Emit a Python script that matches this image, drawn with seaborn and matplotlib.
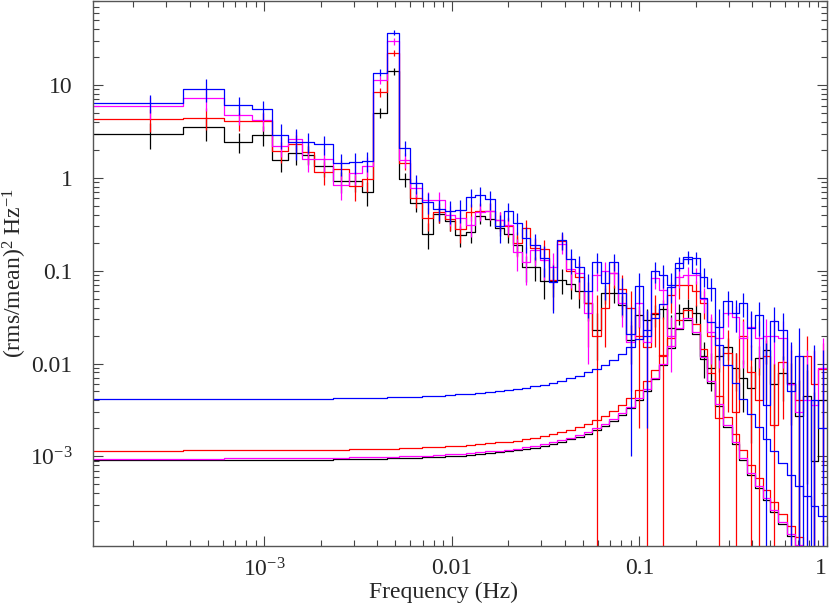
import numpy as np
import matplotlib
matplotlib.use("Agg")
import matplotlib.pyplot as plt
import seaborn as sns
from matplotlib.ticker import FixedLocator, FixedFormatter, LogLocator, NullFormatter

# frequency resolution of the periodogram (Hz)
DF = 1.0 / 4096

# logarithmic bin edges, in units of DF
bin_edges_df = [0.5, 1.5, 2.5, 3.5, 4.5, 5.5, 6.5, 7.5, 9.5, 11.5,
                13.5, 15.5, 18.5, 21.5, 24.5, 28.5, 32.5, 37.5, 42.5, 48.5,
                54.5, 61.5, 69.5, 77.5, 86.5, 96.5, 107.5, 120.5, 134.5, 149.5,
                166.5, 185.5, 206.5, 229.5, 255.5, 283.5, 314.5, 349.5, 387.5, 428.5,
                472.5, 521.5, 576.5, 636.5, 703.5, 779.5, 863.5, 944.5, 1038.5, 1148.5,
                1272.5, 1398.5, 1543.5, 1695.5, 1864.5, 2038.5, 2257.5, 2502.5, 2772.5, 3050.5,
                3355.5, 3690.5, 4095.5]

# ---- black ----
black_power = [2.95, 3.5, 2.46, 2.88, 1.55, 1.83, 1.78, 1.33, 0.93, 0.93,
               0.70, 5.0, 14.0, 0.96, 0.54, 0.25, 0.41, 0.34, 0.24, 0.26,
               0.39, 0.36, 0.29, 0.25, 0.19, 0.11, 0.11, 0.078, 0.078, 0.08,
               0.071, 0.06, 0.045, 0.023, 0.057, 0.057, 0.043, 0.018, 0.033, 0.0295,
               0.034, 0.039, 0.024, 0.035, 0.04, 0.035, 0.012, 0.009, 0.012, 0.015,
               0.009, 0.007, 0.0054, 0.0116, 0.014, 0.006, 0.0079, 0.0062, 0.0027, 0.0045,
               0.0009, 0.004]
black_err = [0.9, 1.0, 0.6, 0.7, 0.38, 0.45, 0.42, 0.32, 0.24, 0.22,
             0.2, 0.6, 1.2, 0.16, 0.11, 0.08, 0.08, 0.07, 0.06, 0.06,
             0.07, 0.06, 0.055, 0.05, 0.045, 0.035, 0.032, 0.028, 0.026, 0.024,
             0.022, 0.02, 0.016, 0.012, 0.013, 0.012, 0.011, 0.008, 0.009, 0.009,
             0.009, 0.009, 0.009, 0.009, 0.009, 0.008, 0.005, 0.004, 0.004, 0.004] + [0.004] * 12
black_model = [0.000903, 0.000905, 0.000907, 0.00091, 0.000913, 0.000914, 0.000917, 0.000921, 0.000925, 0.000931,
               0.000935, 0.000941, 0.00095, 0.000957, 0.000966, 0.000977, 0.000989, 0.001, 0.00102, 0.00104,
               0.00105, 0.00108, 0.0011, 0.00113, 0.00116, 0.0012, 0.00124, 0.0013, 0.00136, 0.00143,
               0.00152, 0.00163, 0.00176, 0.00193, 0.00214, 0.00241, 0.00278, 0.0033, 0.00402, 0.00508,
               0.00673, 0.00958, 0.0147, 0.0233, 0.0293, 0.0208, 0.0112, 0.00616, 0.0035, 0.00209,
               0.00135, 0.000909, 0.000635, 0.000457, 0.000338, 0.000251, 0.000185, 0.00014, 0.000106, 8.3e-5,
               6.5e-5, 5.1e-5]

# ---- red ----
red_power = [4.35, 4.45, 4.07, 4.1, 1.95, 2.34, 1.9, 1.15, 1.23, 0.81,
             0.97, 8.4, 22.3, 1.43, 0.6, 0.37, 0.43, 0.36, 0.28, 0.43,
             0.44, 0.44, 0.35, 0.30, 0.20, 0.29, 0.174, 0.17, 0.08, 0.21,
             0.10, 0.085, 0.045, 0.02, 0.04, 0.095, 0.064, 0.04, 0.02, 0.015,
             0.035, 0.012, 0.055, 0.07, 0.07, 0.06, 0.045, 0.02, 0.0026, 0.013,
             0.003, 0.02, 0.008, 0.004, 0.012, 0.0022, 0.0105, 0.006, 0.004, 0.012,
             0.006, 0.0088]
red_err = [1.2, 1.2, 0.9, 0.9, 0.5, 0.55, 0.48, 0.32, 0.32, 0.25,
           0.27, 0.9, 1.8, 0.22, 0.13, 0.1, 0.1, 0.09, 0.08, 0.09,
           0.09, 0.09, 0.08, 0.07, 0.06, 0.06, 0.05, 0.045, 0.042, 0.042,
           0.038, 0.035, 0.03, 0.035, 0.025, 0.03, 0.025, 0.02, 0.018, 0.022,
           0.02, 0.02, 0.02, 0.02, 0.02, 0.018, 0.015, 0.012, 0.012, 0.01,
           0.01, 0.01] + [0.008] * 10
red_model = [0.00115, 0.00116, 0.00116, 0.00116, 0.00117, 0.00117, 0.00117, 0.00118, 0.00118, 0.00119,
             0.00119, 0.0012, 0.00121, 0.00122, 0.00123, 0.00125, 0.00126, 0.00128, 0.0013, 0.00132,
             0.00135, 0.00138, 0.00141, 0.00144, 0.00148, 0.00153, 0.00159, 0.00166, 0.00174, 0.00183,
             0.00194, 0.00208, 0.00225, 0.00246, 0.00273, 0.00308, 0.00356, 0.00421, 0.00513, 0.00649,
             0.0086, 0.0122, 0.0188, 0.0297, 0.0375, 0.0265, 0.0143, 0.00788, 0.00447, 0.00268,
             0.00172, 0.00116, 0.00081, 0.000584, 0.000432, 0.000321, 0.000237, 0.000178, 0.000136, 0.000106,
             8.3e-5, 6.4e-5]

# ---- magenta ----
magenta_power = [5.9, 7.3, 4.8, 4.17, 2.21, 2.6, 1.6, 1.6, 0.83, 1.13,
                 1.35, 11.4, 29.5, 1.55, 0.77, 0.58, 0.58, 0.40, 0.37, 0.31,
                 0.43, 0.44, 0.35, 0.31, 0.16, 0.125, 0.167, 0.13, 0.11, 0.195,
                 0.105, 0.095, 0.035, 0.09, 0.10, 0.095, 0.045, 0.017, 0.045, 0.017,
                 0.083, 0.062, 0.02, 0.085, 0.09, 0.09, 0.05, 0.022, 0.019, 0.035,
                 0.032, 0.019, 0.025, 0.019, 0.02, 0.02, 0.019, 0.006, 0.003, 0.004,
                 0.0036, 0.009]
magenta_err = [1.6, 2.0, 1.1, 1.0, 0.55, 0.6, 0.45, 0.45, 0.25, 0.3,
               0.32, 1.1, 2.2, 0.28, 0.15, 0.12, 0.12, 0.1, 0.09, 0.08,
               0.09, 0.09, 0.08, 0.07, 0.06, 0.055, 0.055, 0.05, 0.045, 0.045,
               0.04, 0.035, 0.025, 0.03, 0.025, 0.025, 0.02, 0.012, 0.02, 0.012,
               0.02, 0.02, 0.012, 0.02, 0.02, 0.018, 0.015, 0.012, 0.01, 0.01] + [0.01] * 12
magenta_model = [0.000943, 0.000945, 0.000948, 0.00095, 0.000953, 0.000955, 0.000958, 0.000962, 0.000966, 0.000972,
                 0.000977, 0.000983, 0.000992, 0.000999, 0.00101, 0.00102, 0.00103, 0.00105, 0.00106, 0.00108,
                 0.0011, 0.00113, 0.00115, 0.00118, 0.00121, 0.00125, 0.0013, 0.00135, 0.00142, 0.00149,
                 0.00159, 0.0017, 0.00184, 0.00201, 0.00223, 0.00252, 0.00291, 0.00344, 0.0042, 0.0053,
                 0.00703, 0.01, 0.0154, 0.0243, 0.0306, 0.0217, 0.0117, 0.00644, 0.00366, 0.00219,
                 0.00141, 0.00095, 0.000663, 0.000477, 0.000353, 0.000262, 0.000194, 0.000145, 0.000111, 8.6e-5,
                 6.8e-5, 5.3e-5]

# ---- blue ----
blue_power = [6.4, 9.1, 6.1, 5.5, 2.92, 2.44, 2.44, 2.3, 1.43, 1.49,
              1.53, 13.6, 36.5, 2.12, 0.87, 0.55, 0.46, 0.44, 0.45, 0.62,
              0.65, 0.59, 0.30, 0.44, 0.33, 0.226, 0.19, 0.136, 0.075, 0.214,
              0.133, 0.11, 0.061, 0.125, 0.073, 0.125, 0.058, 0.021, 0.069, 0.020,
              0.098, 0.090, 0.070, 0.12, 0.14, 0.138, 0.086, 0.065, 0.025, 0.047,
              0.035, 0.045, 0.024, 0.033, 0.0036, 0.029, 0.023, 0.005, 0.012, -0.002,
              0.004, 0.002]
blue_err = [1.4, 2.6, 1.3, 1.3, 0.9, 0.9, 0.6, 0.55, 0.38, 0.38,
            0.38, 1.2, 2.2, 0.4, 0.2, 0.14, 0.12, 0.12, 0.12, 0.14,
            0.15, 0.14, 0.1, 0.1, 0.09, 0.07, 0.06, 0.05, 0.04, 0.045,
            0.04, 0.035, 0.03, 0.03, 0.025, 0.025, 0.025, 0.02, 0.025, 0.018,
            0.025, 0.025, 0.025, 0.022, 0.022, 0.022, 0.02, 0.018, 0.014, 0.014] + [0.013] * 5 + [0.012] * 7
blue_model = [0.00411, 0.00412, 0.00413, 0.00415, 0.00416, 0.00417, 0.00418, 0.00419, 0.00421, 0.00424,
              0.00426, 0.00429, 0.00433, 0.00436, 0.0044, 0.00445, 0.00451, 0.00457, 0.00464, 0.00472,
              0.00481, 0.00491, 0.00502, 0.00515, 0.00529, 0.00547, 0.00567, 0.00591, 0.00619, 0.00652,
              0.00692, 0.00742, 0.00801, 0.00877, 0.00974, 0.011, 0.0127, 0.015, 0.0183, 0.0231,
              0.0307, 0.0436, 0.0671, 0.106, 0.134, 0.0946, 0.0511, 0.0281, 0.0159, 0.00954,
              0.00613, 0.00414, 0.00289, 0.00208, 0.00154, 0.00114, 0.000845, 0.000634, 0.000484, 0.000377,
              0.000295, 0.00023]

x_ticks = [1e-3, 1e-2, 1e-1, 1.0]
x_labels = ["10$^{-3}$", "0.01", "0.1", "1"]
y_ticks = [1e-3, 1e-2, 1e-1, 1.0, 10.0]
y_labels = ["10$^{-3}$", "0.01", "0.1", "1", "10"]

sns.set_style("ticks")
plt.rcParams["font.family"] = ["Liberation Serif", "DejaVu Serif"]
plt.rcParams["mathtext.fontset"] = "custom"
plt.rcParams["mathtext.rm"] = "Liberation Serif"
plt.rcParams["mathtext.it"] = "Liberation Serif:italic"

fig, ax = plt.subplots(figsize=(8.3, 6.07), dpi=100)
fig.subplots_adjust(left=0.1124, right=0.9961, bottom=0.101, top=0.9985)

edges_hz = np.array(bin_edges_df) * DF
centres_hz = 0.5 * (edges_hz[:-1] + edges_hz[1:])

series = [
    ("#000000", black_power, black_err, black_model),
    ("#ff0000", red_power, red_err, red_model),
    ("#ff00ff", magenta_power, magenta_err, magenta_model),
    ("#0000ff", blue_power, blue_err, blue_model),
]

for color, power, err, model in series:
    # model and data drawn as histograms over the frequency bins
    sns.lineplot(x=edges_hz, y=list(model) + [model[-1]], color=color, lw=0.9,
                 drawstyle="steps-post", estimator=None, sort=False, ax=ax)
    sns.lineplot(x=edges_hz, y=list(power) + [power[-1]], color=color, lw=0.9,
                 drawstyle="steps-post", estimator=None, sort=False, ax=ax)
    ax.errorbar(centres_hz, power, yerr=err, fmt="none", ecolor=color,
                elinewidth=0.9, capsize=0)

ax.set_xscale("log")
ax.set_yscale("log")
ax.set_xlim(edges_hz[0], 1.0)
ax.set_ylim(1.09e-4, 80.5)

ax.xaxis.set_major_locator(FixedLocator(x_ticks))
ax.xaxis.set_major_formatter(FixedFormatter(x_labels))
ax.xaxis.set_minor_locator(LogLocator(base=10, subs=np.arange(2, 10), numticks=20))
ax.xaxis.set_minor_formatter(NullFormatter())
ax.yaxis.set_major_locator(FixedLocator(y_ticks))
ax.yaxis.set_major_formatter(FixedFormatter(y_labels))
ax.yaxis.set_minor_locator(LogLocator(base=10, subs=np.arange(2, 10), numticks=20))
ax.yaxis.set_minor_formatter(NullFormatter())

ax.tick_params(which="both", direction="in", top=True, right=True,
               color="#444444", labelsize=17)
ax.tick_params(which="major", length=7, width=0.8)
ax.tick_params(which="minor", length=4, width=0.8)
ax.tick_params(axis="y", which="major", pad=15)
ax.tick_params(axis="x", which="major", pad=9)

# keep the last frequency label inside the figure
fig.canvas.draw()
ax.get_xticklabels()[-1].set_horizontalalignment("right")

for spine in ax.spines.values():
    spine.set_visible(True)
    spine.set_color("#555555")
    spine.set_linewidth(1.0)

ax.set_xlabel("Frequency (Hz)", fontsize=17)
ax.set_ylabel("(rms/mean)$^2$ Hz$^{-1}$", fontsize=17)
ax.xaxis.set_label_coords(0.477, -0.066)
ax.yaxis.set_label_coords(-0.088, 0.5)

fig.savefig("out.png", dpi=100)
